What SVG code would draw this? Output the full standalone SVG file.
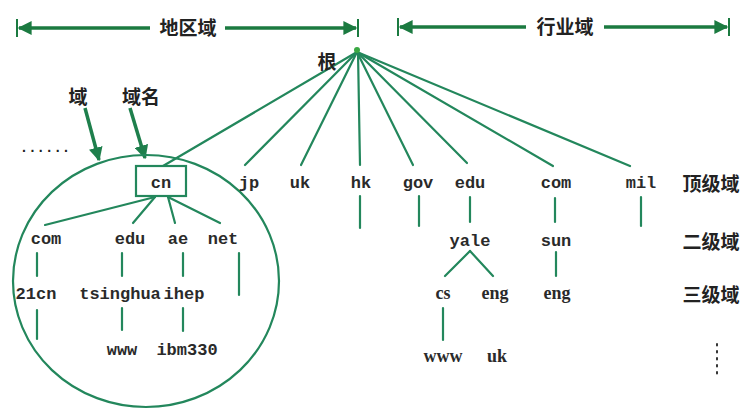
<svg xmlns="http://www.w3.org/2000/svg" width="754" height="418" viewBox="0 0 754 418">
<style>
.ln{stroke:#23875c;stroke-width:2.2;fill:none;stroke-linecap:round}
.bar{stroke:#1b7a40;stroke-width:3.5;fill:none}
.tick{stroke:#1b7a40;stroke-width:2}
.t{font-family:"Liberation Mono",monospace;font-size:17px;font-weight:bold;fill:#2a2a2a;text-anchor:middle}
.s{font-family:"Liberation Serif",serif;font-size:18px;font-weight:bold;fill:#2a2a2a;text-anchor:middle}
.c{font-family:"Noto Sans CJK SC",sans-serif;font-size:19px;font-weight:bold;fill:#222;text-anchor:middle}
</style>
<defs>
<marker id="ah" viewBox="0 0 10 10" refX="9" refY="5" markerWidth="4.5" markerHeight="4" orient="auto">
<path d="M0,0 L10,5 L0,10 z" fill="#1b7a40"/>
</marker>
<marker id="ah2" viewBox="0 0 10 10" refX="9" refY="5" markerWidth="4" markerHeight="4" orient="auto">
<path d="M0,0 L10,5 L0,10 z" fill="#1e7f4c"/>
</marker>
</defs>
<rect width="754" height="418" fill="#fff"/>

<g id="scope-region">
<line class="tick" x1="17" y1="19" x2="17" y2="37"/>
<line class="tick" x1="358" y1="19" x2="358" y2="37"/>
<line class="bar" x1="150" y1="28" x2="19" y2="28" marker-end="url(#ah)"/>
<line class="bar" x1="225" y1="28" x2="356" y2="28" marker-end="url(#ah)"/>
<text class="c" x="188" y="35">地区域</text>
</g>
<g id="scope-industry">
<line class="tick" x1="398" y1="18" x2="398" y2="36"/>
<line class="tick" x1="729" y1="18" x2="729" y2="36"/>
<line class="bar" x1="526" y1="27" x2="400" y2="27" marker-end="url(#ah)"/>
<line class="bar" x1="604" y1="27" x2="727" y2="27" marker-end="url(#ah)"/>
<text class="c" x="565" y="34">行业域</text>
</g>

<g id="connectors">
<line class="ln" x1="357" y1="52" x2="163" y2="166"/>
<line class="ln" x1="357" y1="52" x2="245" y2="165"/>
<line class="ln" x1="357" y1="52" x2="301" y2="165"/>
<line class="ln" x1="358" y1="52" x2="360" y2="165"/>
<line class="ln" x1="357" y1="52" x2="413" y2="165"/>
<line class="ln" x1="357" y1="52" x2="467" y2="163"/>
<line class="ln" x1="357" y1="52" x2="553" y2="166"/>
<line class="ln" x1="357" y1="52" x2="630" y2="166"/>
<line class="ln" x1="155" y1="197" x2="45" y2="225"/>
<line class="ln" x1="155" y1="197" x2="133" y2="223"/>
<line class="ln" x1="168" y1="197" x2="175" y2="223"/>
<line class="ln" x1="168" y1="197" x2="220" y2="223"/>
<line class="ln" x1="37" y1="253" x2="37" y2="276"/>
<line class="ln" x1="122" y1="253" x2="122" y2="276"/>
<line class="ln" x1="183" y1="253" x2="183" y2="276"/>
<line class="ln" x1="239" y1="253" x2="239" y2="295"/>
<line class="ln" x1="37" y1="310" x2="37" y2="339"/>
<line class="ln" x1="122" y1="308" x2="122" y2="330"/>
<line class="ln" x1="183" y1="308" x2="183" y2="331"/>
<line class="ln" x1="360" y1="196" x2="360" y2="228"/>
<line class="ln" x1="419" y1="196" x2="419" y2="226"/>
<line class="ln" x1="470" y1="197" x2="470" y2="222"/>
<line class="ln" x1="555" y1="198" x2="555" y2="222"/>
<line class="ln" x1="641" y1="197" x2="641" y2="226"/>
<line class="ln" x1="470" y1="251" x2="445" y2="276"/>
<line class="ln" x1="470" y1="251" x2="493" y2="276"/>
<line class="ln" x1="556" y1="252" x2="556" y2="276"/>
<line class="ln" x1="443" y1="308" x2="443" y2="340"/>
<line x1="85" y1="108" x2="99" y2="160" stroke="#1e7f4c" stroke-width="3.5" marker-end="url(#ah2)"/>
<line x1="130" y1="108" x2="145" y2="158" stroke="#1e7f4c" stroke-width="3.5" marker-end="url(#ah2)"/>
</g>

<g id="root">
<circle cx="357" cy="50" r="3" fill="#3aa843"/>
<text class="c" x="327" y="69">根</text>
</g>
<g id="zone-circle">
<ellipse cx="146" cy="281" rx="133" ry="126" fill="none" stroke="#23875c" stroke-width="2.2"/>
<text class="c" x="78" y="104">域</text>
<text class="c" x="141" y="104">域名</text>
<text x="45" y="152" font-family="Liberation Mono,monospace" font-size="14" font-weight="bold" fill="#222" text-anchor="middle">......</text>
</g>
<g id="cn">
<rect x="136" y="166" width="50" height="30" fill="#fff" stroke="#23875c" stroke-width="2.2"/>
<text class="t" x="161" y="188">cn</text>
</g>
<g id="jp"><text class="t" x="249" y="188">jp</text></g>
<g id="uk"><text class="t" x="300" y="188">uk</text></g>
<g id="hk"><text class="t" x="361" y="188">hk</text></g>
<g id="gov"><text class="t" x="418" y="188">gov</text></g>
<g id="edu"><text class="t" x="470" y="188">edu</text></g>
<g id="com"><text class="t" x="556" y="188">com</text></g>
<g id="mil"><text class="t" x="641" y="188">mil</text></g>
<g id="cn-com"><text class="t" x="46" y="244">com</text></g>
<g id="cn-edu"><text class="t" x="130" y="244">edu</text></g>
<g id="cn-ae"><text class="t" x="178" y="244">ae</text></g>
<g id="cn-net"><text class="t" x="223" y="244">net</text></g>
<g id="n21cn"><text class="t" x="36" y="299">21cn</text></g>
<g id="tsinghua"><text class="t" x="120" y="299">tsinghua</text></g>
<g id="ihep"><text class="t" x="184" y="299">ihep</text></g>
<g id="www1"><text class="t" x="122" y="355">www</text></g>
<g id="ibm330"><text class="t" x="187" y="355">ibm330</text></g>
<g id="yale"><text class="t" x="470" y="246">yale</text></g>
<g id="sun"><text class="t" x="556" y="246">sun</text></g>
<g id="cs"><text class="s" x="443" y="299">cs</text></g>
<g id="eng1"><text class="s" x="495" y="299">eng</text></g>
<g id="eng2"><text class="s" x="557" y="299">eng</text></g>
<g id="www2"><text class="s" x="443" y="362">www</text></g>
<g id="uk2"><text class="s" x="497" y="362">uk</text></g>
<g id="levels">
<text class="c" x="711" y="191">顶级域</text>
<text class="c" x="711" y="249">二级域</text>
<text class="c" x="711" y="302">三级域</text>
<line x1="717" y1="344" x2="717" y2="378" stroke="#333" stroke-width="2" stroke-dasharray="1.5,5.5" stroke-linecap="round"/>
</g>
</svg>
